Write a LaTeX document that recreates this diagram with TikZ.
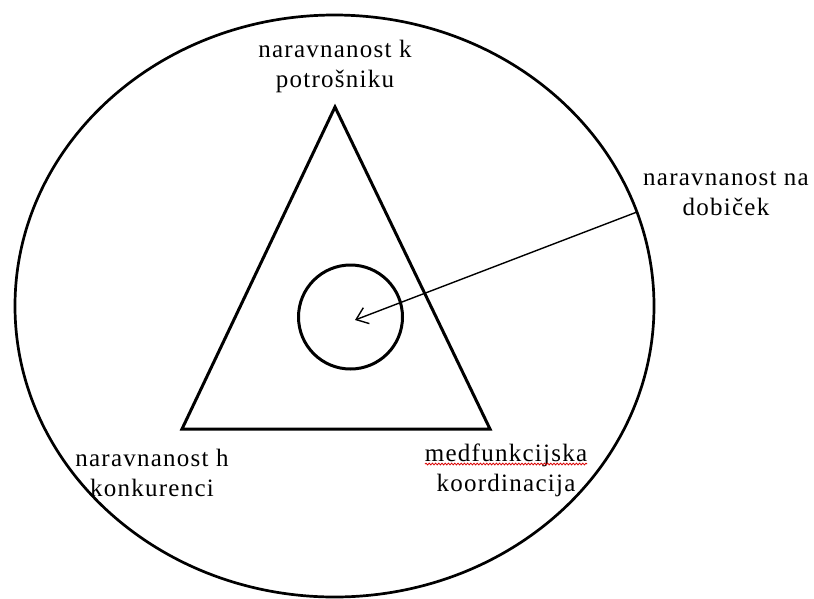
\documentclass[tikz,border=0pt]{standalone}
\usepackage{fontspec}
\setmainfont{Liberation Serif}[LetterSpace=5]
\usetikzlibrary{arrows.meta,decorations.pathmorphing}
\tikzset{
  lbl/.style={align=center, inner sep=0pt, font=\fontsize{25}{30}\selectfont},
  shapeline/.style={draw=black, line width=3pt},
  pointer/.style={draw=black, line width=1.4pt, -{Straight Barb[length=11pt,width=17pt,line width=1.4pt]}},
  squiggle/.style={draw=red!85!black, line width=0.8pt, decorate, decoration={snake, amplitude=0.9pt, segment length=3.2pt}}
}
\begin{document}
\begin{tikzpicture}[x=1pt,y=-1pt]
\useasboundingbox (0,0) rectangle (814,598);
% outer ellipse
\draw[shapeline, line width=2.7pt] (334.5,306) ellipse [x radius=319.5pt, y radius=291pt];
% triangle
\coordinate (apex) at (335,107);
\coordinate (bl) at (182,429);
\coordinate (br) at (490,429);
\draw[shapeline, line join=miter] (apex) -- (bl) -- (br) -- cycle;
% inner circle
\node[shapeline, circle, minimum size=104pt, inner sep=0pt] (inner) at (350.5,317) {};
% arrow
\coordinate (arrstart) at (637,212);
\coordinate (arrend) at (355,320);
\draw[pointer] (arrstart) -- (arrend);
% labels
\node[lbl] (top) at (335,66) {naravnanost k\\potrošniku};
\node[lbl] (right) at (726,194) {naravnanost na\\dobiček};
\node[lbl] (left) at (152,473) {naravnanost h\\konkurenci};
\node[lbl] (bottomright) at (506,470) {medfunkcijska\\koordinacija};
\coordinate (sqa) at (425,464);
\coordinate (sqb) at (587,464);
\draw[squiggle] (sqa) -- (sqb);
\end{tikzpicture}
\end{document}
